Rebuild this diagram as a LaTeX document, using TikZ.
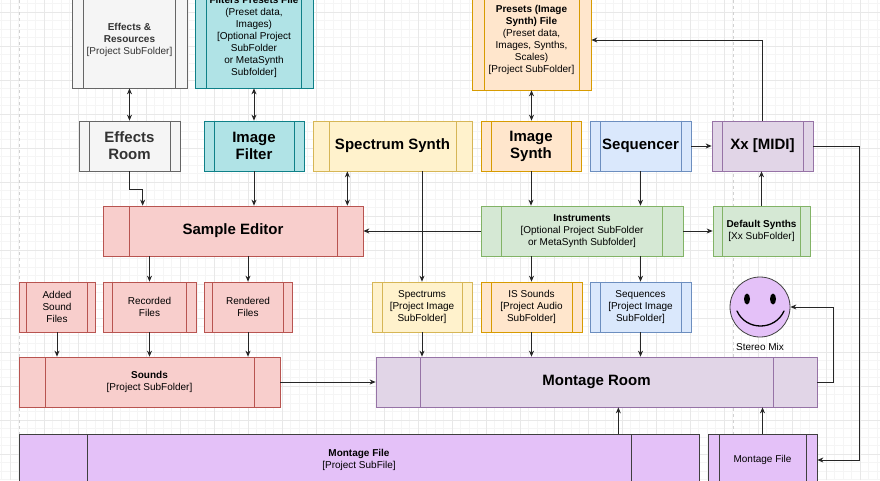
\documentclass[tikz,border=0pt]{standalone}
\usepackage{fontspec}
\setmainfont{Liberation Sans}
\usetikzlibrary{arrows.meta,calc}

\definecolor{grayfill}{HTML}{F5F5F5}
\definecolor{grayline}{HTML}{666666}
\definecolor{tealfill}{HTML}{B0E3E6}
\definecolor{tealline}{HTML}{0E8088}
\definecolor{yelfill}{HTML}{FFF2CC}
\definecolor{yelline}{HTML}{D6B656}
\definecolor{orafill}{HTML}{FFE6CC}
\definecolor{oraline}{HTML}{D79B00}
\definecolor{blufill}{HTML}{DAE8FC}
\definecolor{bluline}{HTML}{6C8EBF}
\definecolor{purfill}{HTML}{E1D5E7}
\definecolor{purline}{HTML}{9673A6}
\definecolor{redfill}{HTML}{F8CECC}
\definecolor{redline}{HTML}{B85450}
\definecolor{grnfill}{HTML}{D5E8D4}
\definecolor{grnline}{HTML}{82B366}
\definecolor{viofill}{HTML}{E4C1F8}
\definecolor{violine}{HTML}{3F3F3F}
\definecolor{darktext}{HTML}{333333}

\tikzset{
  proc/.style 2 args={draw=#2, fill=#1, line width=0.7pt, inner sep=0pt,
    align=center, text=black,
    path picture={
      \draw[#2, line width=0.7pt]
      ($(path picture bounding box.north west)!0.1!(path picture bounding box.north east)$) --
      ($(path picture bounding box.south west)!0.1!(path picture bounding box.south east)$)
      ($(path picture bounding box.north west)!0.9!(path picture bounding box.north east)$) --
      ($(path picture bounding box.south west)!0.9!(path picture bounding box.south east)$);}},
  bigtext/.style={font=\fontsize{15}{17}\selectfont\bfseries},
  smalltext/.style={font=\fontsize{10}{12}\selectfont},
  wire/.style={line width=0.8pt, draw=black!85},
}

\begin{document}
\begin{tikzpicture}[x=1pt,y=-1pt,>={Stealth[length=6pt,width=5pt]}]
      \useasboundingbox (0,0) rectangle (880,480);
      \clip (0,0) rectangle (880,480);
      \fill[white] (0,0) rectangle (880,480);

      % background grid
      \draw[black!4, line width=0.4pt, shift={(10,12)}]
      (-10,-12) grid[step=8.5pt] (870,468);
      \draw[black!9, line width=0.5pt, shift={(10,12)}]
      (-10,-12) grid[step=34pt] (870,468);
      \draw[black!18, dashed] (19,0) -- (19,480) (733,0) -- (733,480);

      % top row files
      \node[proc={grayfill}{grayline}, smalltext, text=darktext,
      minimum width=115pt, minimum height=96pt] (effres) at (129.5,40)
      {\textbf{Effects \&}\\\textbf{Resources}\\{[}Project SubFolder{]}};
      \node[proc={tealfill}{tealline}, smalltext,
      minimum width=118pt, minimum height=102pt] (filtpre) at (254,37)
      {\textbf{Filters Presets File}\\(Preset data,\\Images)\\{[}Optional Project\\SubFolder\\or MetaSynth\\Subfolder{]}};
      \node[proc={orafill}{oraline}, smalltext,
      minimum width=119pt, minimum height=100pt] (preset) at (531.5,40)
      {\textbf{Presets (Image}\\\textbf{Synth) File}\\(Preset data,\\Images, Synths,\\Scales)\\{[}Project SubFolder{]}};

      % rooms
      \node[proc={grayfill}{grayline}, bigtext, text=darktext,
      minimum width=101pt, minimum height=50pt] (effroom) at (129.5,146) {Effects\\Room};
      \node[proc={tealfill}{tealline}, bigtext,
      minimum width=100pt, minimum height=50pt] (imgfilt) at (254,146) {Image\\Filter};
      \node[proc={yelfill}{yelline}, bigtext,
      minimum width=159pt, minimum height=50pt] (specsyn) at (392.5,146) {Spectrum Synth};
      \node[proc={orafill}{oraline}, bigtext,
      minimum width=100pt, minimum height=50pt] (imgsyn) at (531,146) {Image\\Synth};
      \node[proc={blufill}{bluline}, bigtext,
      minimum width=101pt, minimum height=50pt] (seqr) at (640.5,146) {Sequencer};
      \node[proc={purfill}{purline}, bigtext,
      minimum width=101pt, minimum height=50pt] (midi) at (762.5,146) {Xx [MIDI]};

      % second row
      \node[proc={redfill}{redline}, bigtext,
      minimum width=260pt, minimum height=50pt] (sampled) at (233,231) {Sample Editor};
      \node[proc={grnfill}{grnline}, smalltext,
      minimum width=202pt, minimum height=50pt] (instr) at (582,231)
      {\textbf{Instruments}\\{[}Optional Project SubFolder\\or MetaSynth Subfolder{]}};
      \node[proc={grnfill}{grnline}, smalltext,
      minimum width=97pt, minimum height=50pt] (defsyn) at (761.5,231)
      {\textbf{Default Synths}\\{[}Xx SubFolder{]}};

      % sound files
      \node[proc={redfill}{redline}, smalltext,
      minimum width=76pt, minimum height=50pt] (added) at (57,307) {Added\\Sound\\Files};
      \node[proc={redfill}{redline}, smalltext,
      minimum width=93pt, minimum height=50pt] (recorded) at (149.5,307) {Recorded\\Files};
      \node[proc={redfill}{redline}, smalltext,
      minimum width=88pt, minimum height=50pt] (rendered) at (248,307) {Rendered\\Files};
      \node[proc={yelfill}{yelline}, smalltext,
      minimum width=100pt, minimum height=50pt] (spectrums) at (422,307)
      {Spectrums\\{[}Project Image\\SubFolder{]}};
      \node[proc={orafill}{oraline}, smalltext,
      minimum width=101pt, minimum height=50pt] (issounds) at (531.5,307)
      {IS Sounds\\{[}Project Audio\\SubFolder{]}};
      \node[proc={blufill}{bluline}, smalltext,
      minimum width=101pt, minimum height=50pt] (sequences) at (640.5,307)
      {Sequences\\{[}Project Image\\SubFolder{]}};

      % stereo mix
      \node[circle, draw=violine, fill=viofill, line width=0.8pt, minimum size=60pt,
      label={[smalltext, label distance=2pt]below:Stereo Mix}] (stereo) at (760,307) {};
      \fill[black] ([shift={(-13,-8)}]stereo.center) ellipse [x radius=3pt, y radius=5.5pt];
      \fill[black] ([shift={(13,-8)}]stereo.center) ellipse [x radius=3pt, y radius=5.5pt];
      \draw[line width=1.3pt, line cap=round] ([shift={(-23,4)}]stereo.center)
      .. controls ([shift={(-14,24)}]stereo.center) and ([shift={(15,24)}]stereo.center)
      .. ([shift={(24,4)}]stereo.center);

      % montage
      \node[proc={redfill}{redline}, smalltext,
      minimum width=261pt, minimum height=50pt] (sounds) at (149.5,382)
      {\textbf{Sounds}\\{[}Project SubFolder{]}};
      \node[proc={purfill}{purline}, bigtext,
      minimum width=441pt, minimum height=50pt] (mroom) at (596.5,382) {Montage Room};
      \node[proc={viofill}{violine}, smalltext,
      minimum width=680pt, minimum height=52pt] (mfile) at (359,460)
      {\textbf{Montage File}\\{[}Project SubFile{]}};
      \node[proc={viofill}{violine}, smalltext,
      minimum width=109pt, minimum height=52pt] (mfile2) at (762.5,460) {Montage File};

      \coordinate (specx) at ($(sampled.north east)+(-16,0)$);
      \coordinate (mfilex) at ($(mfile.north east)+(-81,0)$);

      % connectors
      \draw[wire,<->] (effres.south) -- (effroom.north);
      \draw[wire,<->] (filtpre.south) -- (imgfilt.north);
      \draw[wire,<->] (preset.south) -- (preset.south |- imgsyn.north);
      \draw[wire,->] (effroom.south) -- ++(0,18) -| ($(sampled.north west)+(40,0)$);
      \draw[wire,->] (imgfilt.south) -- (sampled.north -| imgfilt.south);
      \draw[wire,<->] (specsyn.south -| specx) -- (specx);
      \draw[wire,->] (specsyn.south -| spectrums.north) -- (spectrums.north);
      \draw[wire,->] (instr.west) -- (sampled.east);
      \draw[wire,->] (imgsyn.south) -- (instr.north -| imgsyn.south);
      \draw[wire,->] (seqr.south) -- (instr.north -| seqr.south);
      \draw[wire,->] (seqr.east) -- (midi.west);
      \draw[wire,->] (midi.north) |- (preset.east);
      \draw[wire,->] (instr.east) -- (defsyn.west);
      \draw[wire,->] (defsyn.north) -- (midi.south -| defsyn.north);
      \draw[wire,->] (midi.east) -- ++(46,0) |- (mfile2.east);

      \draw[wire,->] (sampled.south -| recorded.north) -- (recorded.north);
      \draw[wire,->] (sampled.south -| rendered.north) -- (rendered.north);
      \draw[wire,->] (instr.south -| issounds.north) -- (issounds.north);
      \draw[wire,->] (instr.south -| sequences.north) -- (sequences.north);

      \draw[wire,->] (added.south) -- (sounds.north -| added.south);
      \draw[wire,->] (recorded.south) -- (sounds.north -| recorded.south);
      \draw[wire,->] (rendered.south) -- (sounds.north -| rendered.south);
      \draw[wire,->] (spectrums.south) -- (mroom.north -| spectrums.south);
      \draw[wire,->] (issounds.south) -- (mroom.north -| issounds.south);
      \draw[wire,->] (sequences.south) -- (mroom.north -| sequences.south);

      \draw[wire,->] (sounds.east) -- (mroom.west);
      \draw[wire,->] (mroom.east) -- ++(16,0) |- (stereo.east);
      \draw[wire,->] (mfilex) -- (mroom.south -| mfilex);
      \draw[wire,->] (mfile2.north) -- (mroom.south -| mfile2.north);
\end{tikzpicture}
\end{document}
